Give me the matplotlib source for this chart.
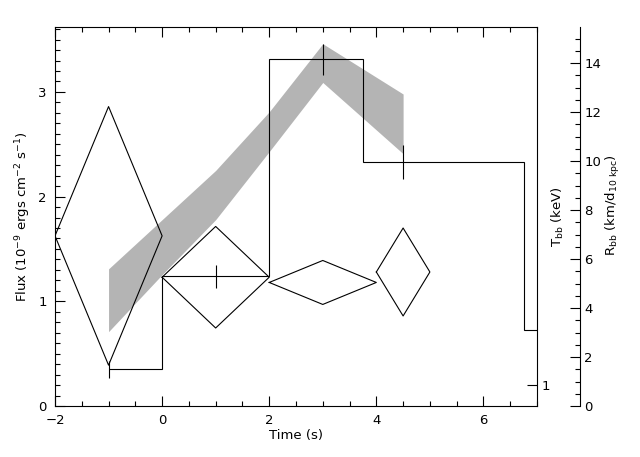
import matplotlib
matplotlib.use("Agg")
import matplotlib.pyplot as plt
from matplotlib.ticker import MultipleLocator, FixedLocator, NullLocator
import numpy as np

# flux histogram (bin edges and values)
hist_edges = [-1, 0, 2, 3.75, 6.75, 7.5]
hist_flux = [0.35, 1.24, 3.31, 2.33, 0.73]

# flux error bars
err_t = [-1, 1, 3, 4.5]
err_flux = [0.35, 1.24, 3.31, 2.33]
err_dflux = [0.08, 0.11, 0.15, 0.165]

# diamonds (kT error boxes)
dia_t = [-1, 1, 3, 4.5]
dia_dt = [1, 1, 1, 0.5]
dia_y = [1.625, 1.23, 1.18, 1.28]
dia_dy = [1.235, 0.485, 0.21, 0.42]

# grey band
band_t = [-1, 0, 1, 2, 3, 4.5]
band_lo = [0.71, 1.255, 1.78, 2.43, 3.09, 2.41]
band_hi = [1.31, 1.78, 2.25, 2.81, 3.46, 2.98]

plt.rcParams['font.family'] = 'DejaVu Sans'
plt.rcParams['font.size'] = 9.5

fig = plt.figure(figsize=(6.4, 4.57), dpi=100)
ax = fig.add_axes([55/640, 51/457, 482/640, 379/457])

lw = 0.8
ax.fill_between(band_t, band_lo, band_hi, color='#b4b4b4', lw=0, zorder=1)
ax.stairs(hist_flux, hist_edges, baseline=None, color='k', lw=lw, zorder=3)
ax.errorbar(err_t, err_flux, yerr=err_dflux, fmt='none', ecolor='k', elinewidth=lw, capsize=0, zorder=3)
for xc, dx, yc, dy in zip(dia_t, dia_dt, dia_y, dia_dy):
    ax.plot([xc - dx, xc, xc + dx, xc, xc - dx], [yc, yc + dy, yc, yc - dy, yc], color='k', lw=lw, zorder=3)

ax.set_xlim(-2, 7)
ax.set_ylim(0, 3.62)
ax.xaxis.set_major_locator(MultipleLocator(2))
ax.xaxis.set_minor_locator(MultipleLocator(0.5))
ax.yaxis.set_major_locator(MultipleLocator(1))
ax.yaxis.set_minor_locator(MultipleLocator(0.1))
ax.tick_params(which='both', direction='in', top=True, right=False, width=lw)
ax.tick_params(which='major', length=7.2, pad=6)
ax.tick_params(which='minor', length=3.6)
for s in ax.spines.values():
    s.set_linewidth(lw)
ax.set_xlabel('Time (s)', labelpad=1)
ax.set_ylabel('Flux (10$^{-9}$ ergs cm$^{-2}$ s$^{-1}$)', labelpad=4)

# kT axis on the frame's right side
ax3 = ax.twinx()
ax3.set_yscale('log')
ax3.set_ylim(0.9, 5.83)
ax3.yaxis.set_major_locator(FixedLocator([1]))
ax3.yaxis.set_minor_locator(NullLocator())
ax3.set_yticklabels(['1'])
ax3.tick_params(which='major', direction='in', length=7.2, width=lw, pad=3)
for s in ax3.spines.values():
    s.set_visible(False)

# radius axis offset to the right
ax2 = ax.twinx()
ax2.set_ylim(0, 15.48)
ax2.spines['right'].set_position(('outward', 31))
ax2.spines['right'].set_linewidth(lw)
for k in ['left', 'top', 'bottom']:
    ax2.spines[k].set_visible(False)
ax2.yaxis.set_major_locator(MultipleLocator(2))
ax2.yaxis.set_minor_locator(MultipleLocator(0.5))
ax2.tick_params(which='both', direction='in', width=lw)
ax2.tick_params(which='major', length=7.2, pad=3)
ax2.tick_params(which='minor', length=3.6)

fig.text(558/640, 1 - 217/457, 'T$_{\\rm bb}$ (keV)', rotation=90, ha='center', va='center')
fig.text(613/640, 1 - 205/457, 'R$_{\\rm bb}$ (km/d$_{\\rm 10\\ kpc}$)', rotation=90, ha='center', va='center')

fig.savefig('out.png', dpi=100)
